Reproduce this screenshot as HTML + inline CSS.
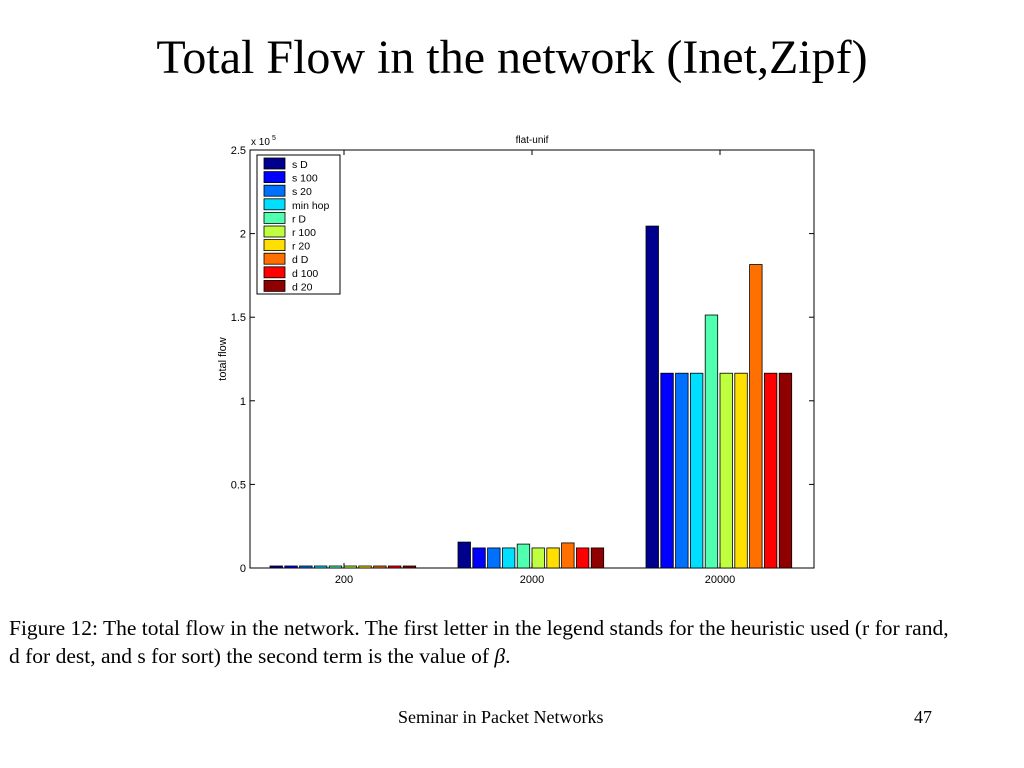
<!DOCTYPE html>
<html><head><meta charset="utf-8"><style>
body{margin:0;width:1024px;height:768px;background:#fff;overflow:hidden;position:relative;font-family:"Liberation Serif",serif}
.t{position:absolute;white-space:nowrap}
</style></head><body>
<div class="t" style="left:0;width:1024px;text-align:center;top:30px;font-size:48px">Total Flow in the network (Inet,Zipf)</div>
<svg id="chart" width="1024" height="600" style="position:absolute;left:0;top:0" font-family="Liberation Sans, sans-serif"></svg>
<div class="t" style="left:9px;top:614px;font-size:21.5px;line-height:28px">Figure 12: The total flow in the network. The first letter in the legend stands for the heuristic used (r for rand,<br>d for dest, and s for sort) the second term is the value of <i>β</i>.</div>
<div class="t" style="left:398px;top:707px;font-size:18px">Seminar in Packet Networks</div>
<div class="t" style="left:914px;top:707px;font-size:18px">47</div>
<script>
const categories=["200","2000","20000"];
const seriesNames=["s D","s 100","s 20","min hop","r D","r 100","r 20","d D","d 100","d 20"];
const seriesColors=["#00008f","#0000ff","#0070ff","#00dfff","#50ffaf","#bfff3f","#ffdf00","#ff7000","#ff0000","#8f0000"];
const values=[
 [0.012,0.012,0.012,0.012,0.012,0.012,0.012,0.012,0.012,0.012],
 [0.155,0.12,0.12,0.12,0.143,0.12,0.12,0.15,0.12,0.12],
 [2.045,1.165,1.165,1.165,1.513,1.165,1.165,1.815,1.165,1.165]];
const yTicks=[0,0.5,1,1.5,2,2.5];
const yTickLabels=["0","0.5","1","1.5","2","2.5"];
const NS="http://www.w3.org/2000/svg",svg=document.getElementById("chart");
const L=250,R=814,T=150,B=568,yMax=2.5;
const y=v=>B-v/yMax*(B-T);
const gw=(R-L)/categories.length;
const x=(g,i)=>L+gw*g+gw/2-74+i*14.8;
function mk(t,a,txt){const e=document.createElementNS(NS,t);for(const k in a)e.setAttribute(k,a[k]);if(txt!==undefined)e.textContent=txt;svg.appendChild(e);return e;}
let e=mk("rect",{x:L,y:T,width:R-L,height:B-T,fill:"#fff",stroke:"#000","stroke-width":1});


values.forEach((row,g)=>row.forEach((v,i)=>{
 const b=mk("rect",{x:x(g,i),y:y(v),width:12.5,height:B-y(v),fill:seriesColors[i],stroke:"#000","stroke-width":0.8});
 
 
}));
yTicks.forEach((t,k)=>{
 mk("line",{x1:L,x2:L+5,y1:y(t),y2:y(t),stroke:"#000"});
 mk("line",{x1:R,x2:R-5,y1:y(t),y2:y(t),stroke:"#000"});
 const l=mk("text",{x:L-4,y:y(t)+4,"font-size":11,"text-anchor":"end"},yTickLabels[k]);
 
 
});
categories.forEach((c,g)=>{
 const cx=L+gw*g+gw/2;
 mk("line",{x1:cx,x2:cx,y1:B,y2:B-5,stroke:"#000"});
 mk("line",{x1:cx,x2:cx,y1:T,y2:T+5,stroke:"#000"});
 const l=mk("text",{x:cx,y:B+15,"font-size":11,"text-anchor":"middle"},c);
 
 
});
e=mk("text",{x:251,y:145,"font-size":10},"x 10");


mk("text",{x:272,y:140,"font-size":7},"5");
e=mk("text",{x:532,y:143,"font-size":10,"text-anchor":"middle"},"flat-unif");


e=mk("text",{x:226,y:359,"font-size":11,"text-anchor":"middle",transform:"rotate(-90 226 359)"},"total flow");


e=mk("rect",{x:257,y:155,width:83,height:139,fill:"#fff",stroke:"#000"});


seriesNames.forEach((n,i)=>{
 const yy=158+i*13.6;
 const s=mk("rect",{x:264,y:yy,width:21,height:11,fill:seriesColors[i],stroke:"#000","stroke-width":0.8});
 
 
 const t=mk("text",{x:292,y:yy+10,"font-size":10.5},n);
 
 
});
</script>
</body></html>
